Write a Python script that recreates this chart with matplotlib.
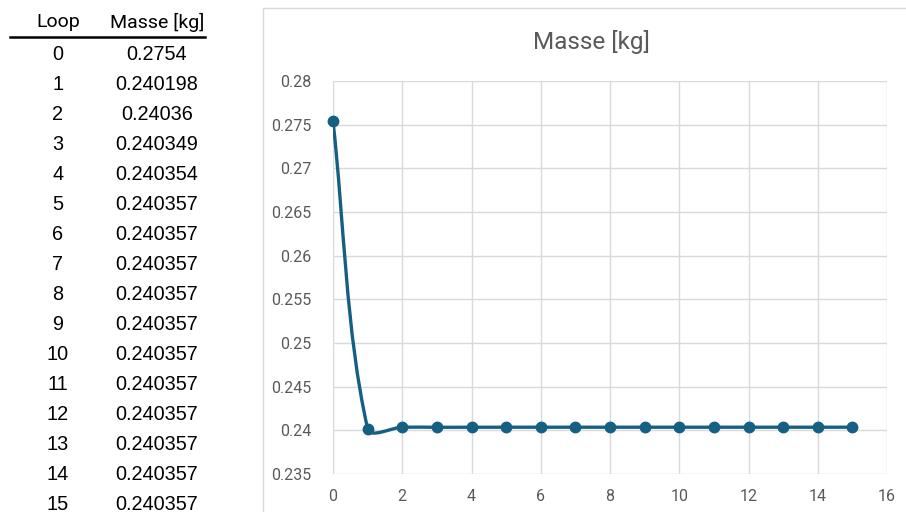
import numpy as np
import matplotlib
matplotlib.use("Agg")
import matplotlib.pyplot as plt
from matplotlib.path import Path
from matplotlib.patches import PathPatch, Rectangle
from matplotlib import font_manager

loops = [0, 1, 2, 3, 4, 5, 6, 7, 8, 9, 10, 11, 12, 13, 14, 15]
masse = [0.2754, 0.240198, 0.24036, 0.240349, 0.240354, 0.240357, 0.240357,
         0.240357, 0.240357, 0.240357, 0.240357, 0.240357, 0.240357,
         0.240357, 0.240357, 0.240357]
masse_labels = ["0.2754", "0.240198", "0.24036", "0.240349", "0.240354",
                "0.240357", "0.240357", "0.240357", "0.240357", "0.240357",
                "0.240357", "0.240357", "0.240357", "0.240357", "0.240357",
                "0.240357"]
col_headers = ["Loop", "Masse [kg]"]
chart_title = "Masse [kg]"
x_ticks = [0, 2, 4, 6, 8, 10, 12, 14, 16]
y_ticks = [0.235, 0.24, 0.245, 0.25, 0.255, 0.26, 0.265, 0.27, 0.275, 0.28]
y_tick_labels = ["0.235", "0.24", "0.245", "0.25", "0.255", "0.26", "0.265",
                 "0.27", "0.275", "0.28"]

avail = {f.name for f in font_manager.fontManager.ttflist}
narrow = "Liberation Sans Narrow" if "Liberation Sans Narrow" in avail else "Roboto"
arial = "Liberation Sans"

W, H = 906, 512
fig = plt.figure(figsize=(W / 100, H / 100), dpi=100)
fig.patch.set_facecolor("white")

def fx(px):
    return px / W

def fy(py):
    return 1 - py / H

# chart area border
fig.patches.append(Rectangle((fx(263), fy(530)), fx(700), (530 - 8) / H,
                             transform=fig.transFigure, fill=False,
                             edgecolor="#D9D9D9", linewidth=1.0))

# ---- table on the left ----
fig.text(fx(58), fy(22), col_headers[0], family=narrow, fontsize=14,
         ha="center", va="center", color="black")
fig.text(fx(157), fy(22), col_headers[1], family=narrow, fontsize=14,
         ha="center", va="center", color="black")
fig.add_artist(plt.Line2D([fx(10), fx(205)], [fy(37), fy(37)],
                          transform=fig.transFigure, color="black", linewidth=1.8))
for i, (lp, lab) in enumerate(zip(loops, masse_labels)):
    yy = 54 + 30 * i
    fig.text(fx(58), fy(yy), str(lp), family=arial, fontsize=14.3,
             ha="center", va="center", color="black")
    fig.text(fx(157), fy(yy), lab, family=arial, fontsize=14.3,
             ha="center", va="center", color="black")

# ---- chart ----
left, right, top, bottom = 333, 887, 81, 474
ax = fig.add_axes([fx(left), fy(bottom), fx(right - left), (bottom - top) / H])
ax.set_xlim(0, 16)
ax.set_ylim(0.235, 0.28)
ax.set_xticks(x_ticks)
ax.set_yticks(y_ticks)
ax.set_yticklabels(y_tick_labels)
ax.set_xticklabels([str(v) for v in x_ticks])
ax.grid(True, color="#D9D9D9", linewidth=1.0)
ax.set_axisbelow(True)
for s in ax.spines.values():
    s.set_visible(False)
ax.tick_params(length=0, labelsize=11.5, labelcolor="#595959")
ax.tick_params(axis="y", pad=15.5)
ax.tick_params(axis="x", pad=10.5)
for lab in ax.get_xticklabels() + ax.get_yticklabels():
    lab.set_family(narrow)

fig.text(fx(591), fy(42), chart_title, family=narrow, fontsize=17.5,
         ha="center", va="center", color="#595959")

color = "#156082"

# Smoothed line (Excel-like) built from the data in display space
pts = ax.transData.transform(np.column_stack([loops, masse]))
n = len(pts)
tang = []
for i in range(n):
    a = pts[max(i - 1, 0)]
    b = pts[min(i + 1, n - 1)]
    t = b - a
    tang.append(t / np.linalg.norm(t))
verts = [pts[0]]
codes = [Path.MOVETO]
k = 0.32
for i in range(n - 1):
    d = np.linalg.norm(pts[i + 1] - pts[i])
    c1 = pts[i] + tang[i] * d * k
    c2 = pts[i + 1] - tang[i + 1] * d * k
    verts += [c1, c2, pts[i + 1]]
    codes += [Path.CURVE4] * 3
verts_data = ax.transData.inverted().transform(np.array(verts))
ax.add_patch(PathPatch(Path(verts_data, codes), facecolor="none",
                       edgecolor=color, linewidth=2.4, zorder=3,
                       capstyle="round", joinstyle="round"))
ax.plot(loops, masse, linestyle="none", marker="o", markersize=7.5,
        color=color, zorder=4, clip_on=False)

fig.savefig("out.png", dpi=100, facecolor="white")
